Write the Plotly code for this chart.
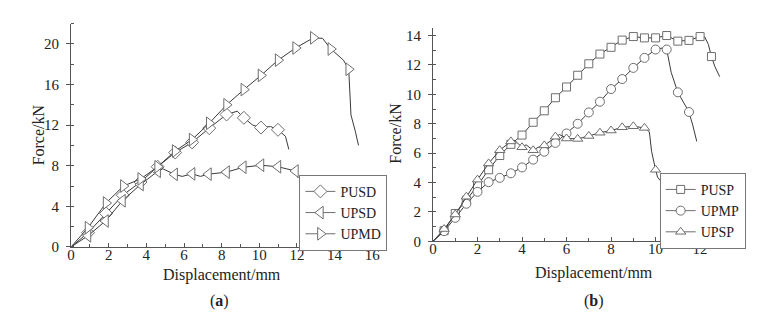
import plotly.graph_objects as go

# ---------------- Panel (a) data ----------------
pusd_x = [0, 0.9, 1.86, 2.75, 3.69, 4.6, 5.53, 6.43, 7.34, 8.26, 8.83, 9.18, 9.65, 10.09, 10.6, 10.99, 11.39, 11.57]
pusd_y = [0, 1.4, 3.3, 5.1, 6.4, 7.9, 9.3, 10.3, 11.7, 13.05, 13.37, 12.72, 12.0, 11.76, 11.86, 11.54, 10.9, 9.6]
pusd_m = [0, 1, 1, 1, 1, 1, 1, 1, 1, 1, 0, 1, 0, 1, 0, 1, 0, 0]

upsd_x = [0, 0.9, 1.83, 2.73, 3.69, 4.6, 4.87, 5.5, 5.9, 6.43, 6.87, 7.3, 8.26, 9.15, 10.09, 10.99, 11.92, 12.06]
upsd_y = [0, 1.1, 2.56, 4.55, 6.15, 7.45, 7.7, 7.15, 6.95, 7.2, 6.95, 7.17, 7.37, 7.85, 8.05, 7.9, 7.48, 6.8]
upsd_m = [0, 1, 1, 1, 1, 1, 0, 1, 0, 1, 0, 1, 1, 1, 1, 1, 1, 0]

upmd_x = [0, 0.9, 1.86, 2.78, 3.7, 4.6, 5.53, 6.43, 7.34, 8.26, 9.18, 10.09, 11.0, 11.93, 12.87, 13.36, 13.8, 14.47, 14.75, 14.87, 15.1, 15.27]
upmd_y = [0, 1.9, 4.33, 6.0, 6.7, 7.9, 9.45, 10.58, 12.18, 14.0, 15.5, 16.9, 18.4, 19.6, 20.6, 20.55, 19.5, 18.4, 17.5, 13.0, 11.4, 10.0]
upmd_m = [0, 1, 1, 1, 1, 1, 1, 1, 1, 1, 1, 1, 1, 1, 1, 0, 1, 0, 1, 0, 0, 0]

# ---------------- Panel (b) data ----------------
pusp_x = [0, 0.5, 1.0, 1.5, 2.0, 2.5, 3.0, 3.5, 4.0, 4.5, 5.0, 5.5, 6.0, 6.5, 7.0, 7.5, 8.0, 8.5, 9.0, 9.5, 10.0, 10.5, 11.0, 11.5, 12.0, 12.2, 12.37, 12.51, 12.66, 12.88]
pusp_y = [0, 0.73, 1.9, 2.8, 3.8, 4.87, 5.84, 6.6, 7.23, 8.1, 8.88, 9.77, 10.5, 11.3, 12.08, 12.74, 13.2, 13.69, 13.93, 13.84, 13.84, 14.0, 13.62, 13.67, 13.93, 13.93, 13.4, 12.57, 11.9, 11.2]
pusp_m = [0] + [1] * 24 + [0, 0, 1, 0, 0]

upmp_x = [0, 0.5, 1.0, 1.5, 2.0, 2.5, 3.0, 3.5, 4.0, 4.5, 5.0, 5.5, 6.0, 6.5, 7.0, 7.5, 8.0, 8.5, 9.0, 9.5, 10.0, 10.3, 10.5, 10.7, 11.0, 11.5, 11.67, 11.85]
upmp_y = [0, 0.7, 1.6, 2.56, 3.37, 4.03, 4.32, 4.63, 5.03, 5.56, 6.1, 6.7, 7.34, 8.0, 8.77, 9.5, 10.36, 11.04, 11.8, 12.48, 13.05, 13.15, 13.05, 11.5, 10.14, 8.8, 7.9, 6.8]
upmp_m = [0] + [1] * 20 + [0, 1, 0, 1, 1, 0, 0]

upsp_x = [0, 0.5, 1.0, 1.5, 2.0, 2.5, 3.0, 3.5, 3.7, 4.0, 4.18, 4.5, 4.8, 5.0, 5.5, 5.68, 6.0, 6.5, 7.0, 7.5, 8.0, 8.5, 9.0, 9.5, 9.72, 9.82, 10.0, 10.09, 10.2]
upsp_y = [0, 0.84, 1.83, 3.04, 4.2, 5.3, 6.2, 6.8, 6.83, 6.4, 6.57, 6.2, 6.46, 6.53, 7.12, 7.27, 7.0, 6.97, 7.17, 7.39, 7.54, 7.76, 7.83, 7.72, 7.45, 6.13, 4.87, 4.37, 4.15]
upsp_m = [0, 1, 1, 1, 1, 1, 1, 1, 0, 1, 0, 1, 0, 1, 1, 0, 1, 1, 1, 1, 1, 1, 1, 1, 0, 0, 1, 0, 0]

series_a = [("PUSD", pusd_x, pusd_y, pusd_m, "diamond", 10),
            ("UPSD", upsd_x, upsd_y, upsd_m, "triangle-left", 11),
            ("UPMD", upmd_x, upmd_y, upmd_m, "triangle-right", 11)]
series_b = [("PUSP", pusp_x, pusp_y, pusp_m, "square", 8),
            ("UPMP", upmp_x, upmp_y, upmp_m, "circle", 9),
            ("UPSP", upsp_x, upsp_y, upsp_m, "triangle-up", 9)]

LINE = "#3a3a3a"
MK = "#6e6e6e"
FONT = "Liberation Serif, Times New Roman, DejaVu Serif, serif"

fig = go.Figure()


def add_series(series, xa, ya, leg):
    for name, xs, ys, ms, sym, sz in series:
        fig.add_trace(go.Scatter(x=xs, y=ys, mode="lines", line=dict(color=LINE, width=1),
                                 xaxis=xa, yaxis=ya, showlegend=False, hoverinfo="skip"))
        mx = [x for x, m in zip(xs, ms) if m]
        my = [y for y, m in zip(ys, ms) if m]
        mk = dict(symbol=sym, size=sz, color="white", line=dict(color=MK, width=1))
        fig.add_trace(go.Scatter(x=mx, y=my, mode="markers", marker=mk,
                                 xaxis=xa, yaxis=ya, showlegend=False))
        fig.add_trace(go.Scatter(x=[None], y=[None], mode="lines+markers", name=name,
                                 line=dict(color=MK, width=1), marker=mk,
                                 xaxis=xa, yaxis=ya, legend=leg))


add_series(series_a, "x", "y", "legend")
add_series(series_b, "x2", "y2", "legend2")

W, H = 764, 324
axcommon = dict(showline=True, linecolor="#555", linewidth=1, showgrid=False, zeroline=False,
                tickcolor="#555", tickfont=dict(family=FONT, size=15, color="#222"))
xcommon = dict(ticks="inside", ticklen=4, ticklabelstandoff=-6, **axcommon)
ycommon = dict(ticks="outside", ticklen=4, ticklabelstandoff=4, **axcommon)
minor_in = dict(ticks="inside", ticklen=3, tickcolor="#555")

fig.update_layout(
    width=W, height=H, margin=dict(l=0, r=0, t=0, b=0),
    paper_bgcolor="white", plot_bgcolor="white",
    font=dict(family=FONT, color="#222"),
    xaxis=dict(domain=[60 / W, 366 / W], range=[0, 16], dtick=2, anchor="y",
               minor=dict(dtick=1, **minor_in), **xcommon),
    yaxis=dict(domain=[1 - 245 / H, 1 - 16 / H], range=[0, 22], dtick=4, anchor="x",
               minor=dict(dtick=2, **minor_in), **ycommon),
    xaxis2=dict(domain=[427.7 / W, 721.7 / W], range=[0, 13], dtick=2, anchor="y2",
                minor=dict(dtick=1, **minor_in), **xcommon),
    yaxis2=dict(domain=[1 - 239.3 / H, 1 - 20.7 / H], range=[0, 14.5], dtick=2, anchor="x2",
                minor=dict(dtick=1, **minor_in), **ycommon),
    legend=dict(x=292 / W, y=1 - 171 / H, xanchor="left", yanchor="top",
                bordercolor="#777", borderwidth=1, bgcolor="white",
                font=dict(family=FONT, size=14, color="#222"), itemwidth=30,
                tracegroupgap=0),
    legend2=dict(x=658 / W, y=1 - 169 / H, xanchor="left", yanchor="top",
                 bordercolor="#777", borderwidth=1, bgcolor="white",
                 font=dict(family=FONT, size=14, color="#222"), itemwidth=30,
                 tracegroupgap=0),
)

ann = [
    dict(text="Displacement/mm", x=213 / W, y=1 - 274 / H, size=16, angle=0),
    dict(text="Displacement/mm", x=591 / W, y=1 - 272 / H, size=16, angle=0),
    dict(text="Force/kN", x=27 / W, y=1 - 130 / H, size=16, angle=-90),
    dict(text="Force/kN", x=390 / W, y=1 - 128 / H, size=16, angle=-90),
    dict(text="(<b>a</b>)", x=211 / W, y=1 - 300 / H, size=16, angle=0),
    dict(text="(<b>b</b>)", x=591 / W, y=1 - 300 / H, size=16, angle=0),
]
for a in ann:
    fig.add_annotation(text=a["text"], x=a["x"], y=a["y"], xref="paper", yref="paper",
                       showarrow=False, textangle=a["angle"], xanchor="center", yanchor="middle",
                       font=dict(family=FONT, size=a["size"], color="#222"))

fig.write_html("out.html")
